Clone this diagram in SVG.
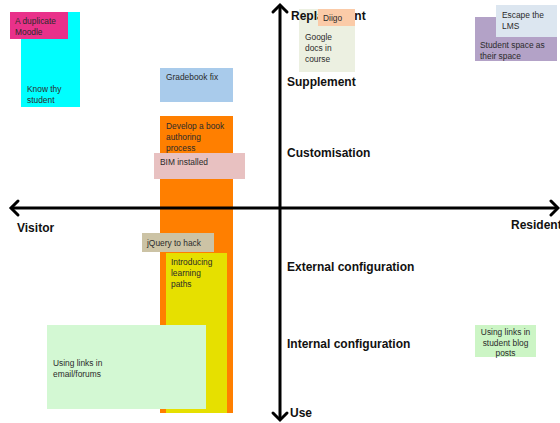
<svg xmlns="http://www.w3.org/2000/svg" width="560" height="423" viewBox="0 0 560 423">
<style>
.t{font-family:"Liberation Sans",Arial,sans-serif;font-size:8.4px;fill:#2b2b2b}
.ax{font-family:"Liberation Sans",Arial,sans-serif;font-size:12px;font-weight:bold;fill:#111}
.axis{stroke:#000;stroke-width:3;fill:none}
.head{stroke:#000;stroke-width:3;fill:none;stroke-linecap:round;stroke-linejoin:miter}
</style>
<rect width="560" height="423" fill="#fff"/>
<g id="know-thy-student"><rect x="21" y="12" width="59" height="95" fill="#00FFFF"/><text class="t" x="27" y="92">Know thy</text><text class="t" x="27" y="103">student</text></g>
<g id="duplicate-moodle"><rect x="10" y="12" width="58" height="27" fill="#E9318A"/><text class="t" x="15" y="24">A duplicate</text><text class="t" x="15" y="35">Moodle</text></g>
<g id="gradebook-fix"><rect x="160" y="68" width="73" height="34" fill="#A9CBEB"/><text class="t" x="166" y="80">Gradebook fix</text></g>
<g id="book-authoring"><rect x="160" y="116" width="73" height="297" fill="#FF7F00"/><text class="t" x="166" y="129">Develop a book</text><text class="t" x="166" y="140">authoring</text><text class="t" x="166" y="151">process</text></g>
<g id="bim-installed"><rect x="154" y="153" width="91" height="26" fill="#E8C1C1"/><text class="t" x="160" y="165">BIM installed</text></g>
<g id="learning-paths"><rect x="166" y="253" width="61" height="160" fill="#E6E000"/><text class="t" x="171" y="265">Introducing</text><text class="t" x="171" y="276">learning</text><text class="t" x="171" y="287">paths</text></g>
<g id="jquery-hack"><rect x="142" y="233" width="72" height="19" fill="#CCC3A5"/><text class="t" x="147" y="246">jQuery to hack</text></g>
<g id="links-email"><rect x="47" y="325" width="159" height="84" fill="#D3F8D3"/><text class="t" x="53" y="366">Using links in</text><text class="t" x="53" y="377">email/forums</text></g>
<g id="google-docs"><rect x="299" y="9" width="56" height="63" fill="#ECF0E1"/><text class="t" x="305" y="40">Google</text><text class="t" x="305" y="51">docs in</text><text class="t" x="305" y="62">course</text></g>
<g id="student-space"><rect x="475" y="17" width="82" height="44" fill="#B3A2C7"/><text class="t" x="480" y="48">Student space as</text><text class="t" x="480" y="59">their space</text></g>
<g id="escape-lms"><rect x="496" y="5" width="61" height="32" fill="#DCE6F0"/><text class="t" x="502" y="18">Escape the</text><text class="t" x="502" y="29">LMS</text></g>
<g id="links-blog"><rect x="475" y="325" width="61" height="32" fill="#CCF5C5"/><text class="t" x="505.5" y="334.5" text-anchor="middle">Using links in</text><text class="t" x="505.5" y="345.5" text-anchor="middle">student blog</text><text class="t" x="505.5" y="356" text-anchor="middle">posts</text></g>
<g id="connectors">
<line class="axis" x1="12" y1="208" x2="557" y2="208"/>
<line class="axis" x1="280" y1="6" x2="280" y2="419"/>
<path class="head" d="M18,201 L11,208 L18,215"/>
<path class="head" d="M551,201 L558,208 L551,215"/>
<path class="head" d="M273,12 L280,5 L287,12"/>
<path class="head" d="M273,413 L280,420 L287,413"/>
</g>
<g id="axis-labels">
<text class="ax" x="291" y="19.5">Replacement</text>
<text class="ax" x="287" y="86">Supplement</text>
<text class="ax" x="287" y="157">Customisation</text>
<text class="ax" x="287" y="271">External configuration</text>
<text class="ax" x="287" y="348">Internal configuration</text>
<text class="ax" x="290" y="417">Use</text>
<text class="ax" x="17" y="232">Visitor</text>
<text class="ax" x="511" y="229">Resident</text>
</g>
<g id="diigo"><rect x="318" y="9" width="37" height="17" fill="#FBCBA8"/><text class="t" x="323" y="21">Diigo</text></g>
</svg>
